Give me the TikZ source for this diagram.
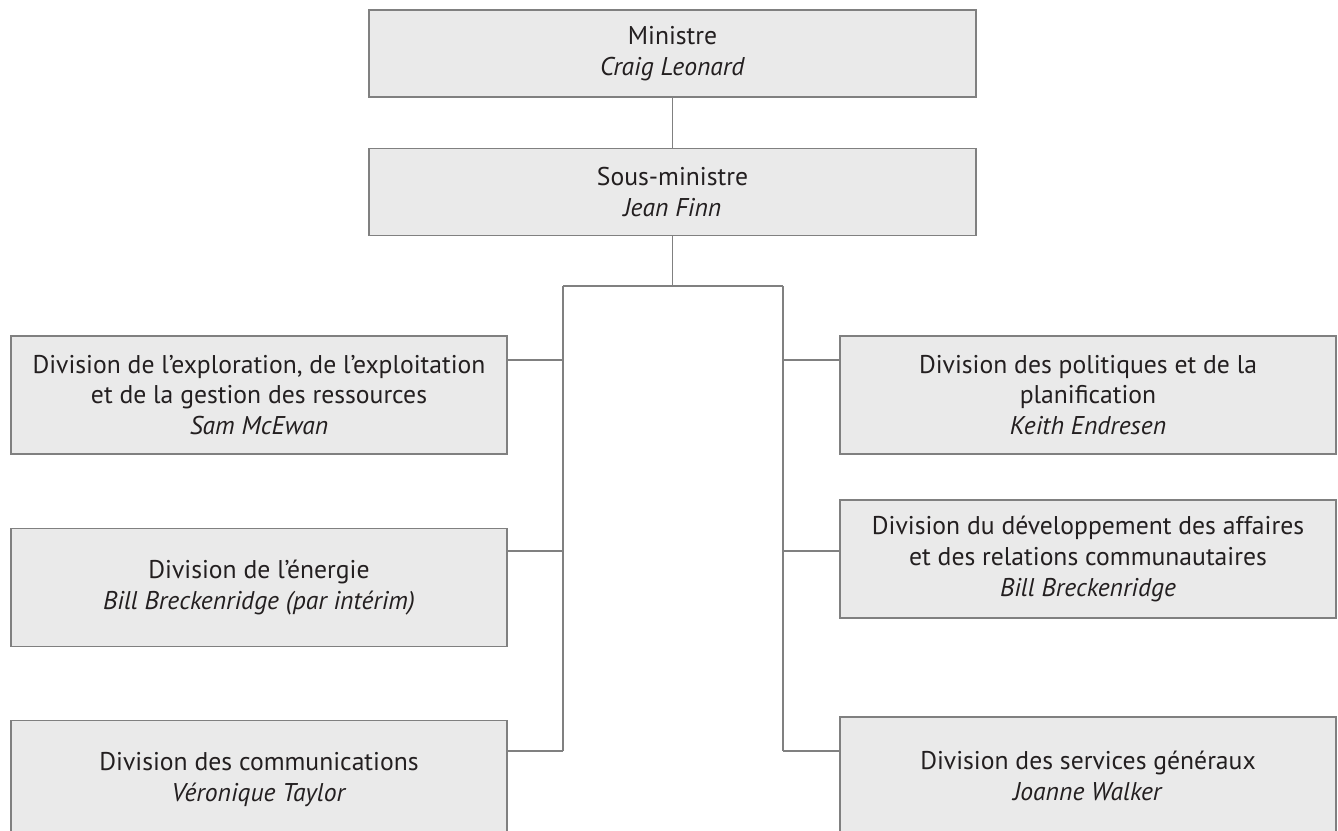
\documentclass[tikz,border=0pt]{standalone}
\usepackage{fontspec}
\setmainfont{PT Sans}
\usepackage{tikz}
\usetikzlibrary{positioning}
\definecolor{linegray}{HTML}{808080}
\definecolor{boxedge}{HTML}{EAEAEA}
\definecolor{boxmid}{HTML}{FDFDFD}
\definecolor{txtgray}{HTML}{231F20}

\begin{document}
\begin{tikzpicture}[
            x=0.02cm, y=-0.02cm,
            node distance=1.46cm and 2cm,
            post/.style={draw=linegray, line width=0.8pt, left color=boxedge, middle color=boxmid, right color=boxedge, align=center, text=txtgray, inner sep=0pt, font=\fontsize{14.6}{17.6}\selectfont},
            toppost/.style={post, minimum width=12.14cm, minimum height=1.74cm},
            division/.style={post, minimum width=9.92cm, minimum height=2.36cm},
            link/.style={draw=linegray, line width=0.8pt},
        ]
        \useasboundingbox (0,0) rectangle (1338,831);

            % Nodes
            \node[toppost] (ministre) at (672.5,53.5) {Ministre\\\textit{Craig Leonard}};
            \node[toppost, below=1cm of ministre] (sousmin) {Sous-ministre\\\textit{Jean Finn}};
            \node[division] (dexpl) at (259,395) {Division de l’exploration, de l’exploitation\\et de la gestion des ressources\\\textit{Sam McEwan}};
            \node[division, below=of dexpl] (denergie) {Division de l’énergie\\\textit{Bill Breckenridge (par intérim)}};
            \node[division, below=of denergie] (dcomm) {Division des communications\\\textit{Véronique Taylor}};
            \node[division] (dpolit) at (1088,395) {Division des politiques et de la\\planification\\\textit{Keith Endresen}};
            \node[division] (ddevel) at (1088,559) {Division du développement des affaires\\et des relations communautaires\\\textit{Bill Breckenridge}};
            \node[division] (dserv) at (1088,776) {Division des services généraux\\\textit{Joanne Walker}};

            % Bus points
            \coordinate (hub) at (672.5,286);
            \coordinate (lbus) at (563,286);
            \coordinate (rbus) at (783,286);
            \coordinate (l1) at (563,360);
            \coordinate (l2) at (563,551);
            \coordinate (l3) at (563,751);
            \coordinate (r1) at (783,360);
            \coordinate (r2) at (783,551);
            \coordinate (r3) at (783,751);

            % Lines
            \draw[link] (ministre) -- (sousmin);
            \draw[link] (sousmin) -- (hub);
            \draw[link] (lbus) -- (rbus);
            \draw[link] (lbus) -- (l3);
            \draw[link] (rbus) -- (r3);
            \draw[link] (l1) -- (l1 -| dexpl.east);
            \draw[link] (l2) -- (l2 -| denergie.east);
            \draw[link] (l3) -- (l3 -| dcomm.east);
            \draw[link] (r1) -- (r1 -| dpolit.west);
            \draw[link] (r2) -- (r2 -| ddevel.west);
            \draw[link] (r3) -- (r3 -| dserv.west);

        \end{tikzpicture}
\end{document}
